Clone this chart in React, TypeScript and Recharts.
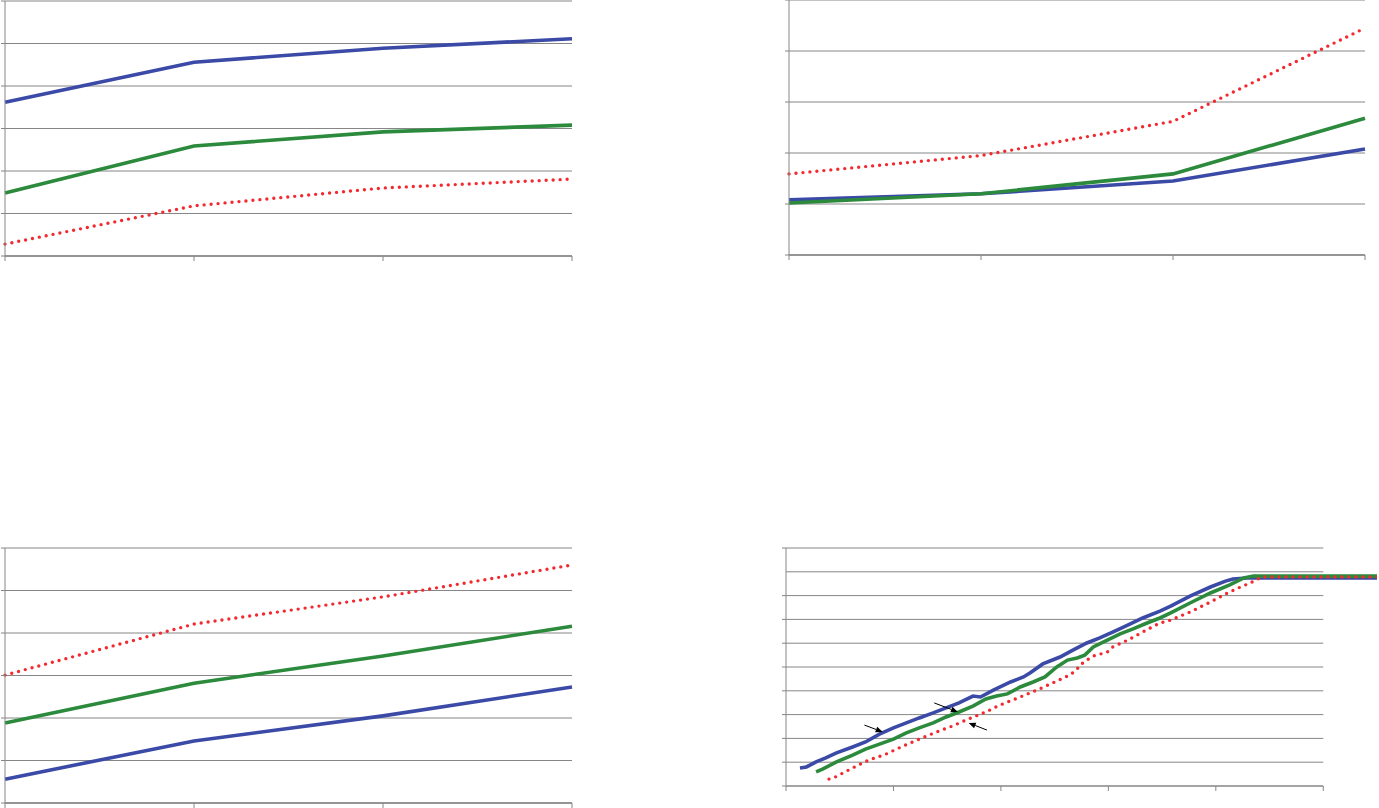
import React from "react";
import { LineChart, Line, XAxis, YAxis, CartesianGrid, ReferenceLine } from "recharts";

// ---------- colours ----------
const BLUE = "#3a4aa6";
const GREEN = "#2c8a3c";
const RED = "#f22a30";
const GRID = "#868686";

// ---------- panels 1-3 (four categories each) ----------
const categories = ["1", "2", "3", "4"];

const p1Blue = [3.62, 4.56, 4.89, 5.11];
const p1Green = [1.48, 2.59, 2.92, 3.08];
const p1Red = [0.28, 1.18, 1.6, 1.81];
const p1Ticks = [0, 1, 2, 3, 4, 5, 6];

const p2Blue = [1.08, 1.2, 1.45, 2.08];
const p2Green = [1.02, 1.2, 1.59, 2.68];
const p2Red = [1.59, 1.95, 2.62, 4.45];
const p2Ticks = [0, 1, 2, 3, 4, 5];

const p3Blue = [0.56, 1.46, 2.05, 2.73];
const p3Green = [1.88, 2.82, 3.46, 4.16];
const p3Red = [3.01, 4.21, 4.85, 5.6];
const p3Ticks = [0, 1, 2, 3, 4, 5, 6];

// ---------- panel 4 (numeric x) ----------
const p4XTicks = [0, 1, 2, 3, 4, 5];
const p4YTicks = [0, 1, 2, 3, 4, 5, 6, 7, 8, 9, 10];
const p4GridLevels = [1, 2, 3, 4, 5, 6, 7, 8, 9, 10];

const p4BlueX = [0.13, 0.19, 0.28, 0.37, 0.47, 0.62, 0.74, 0.87, 1.0, 1.12, 1.24, 1.37, 1.49, 1.61, 1.74, 1.81, 1.93, 2.09, 2.21, 2.27, 2.39, 2.55, 2.67, 2.8, 2.92, 3.04, 3.18, 3.32, 3.48, 3.58, 3.76, 3.95, 4.09, 4.16, 4.29, 5.5];
const p4BlueY = [0.76, 0.8, 1.01, 1.18, 1.39, 1.64, 1.85, 2.18, 2.44, 2.65, 2.86, 3.07, 3.28, 3.49, 3.78, 3.74, 4.03, 4.37, 4.58, 4.75, 5.13, 5.42, 5.71, 6.01, 6.22, 6.47, 6.76, 7.06, 7.35, 7.56, 7.98, 8.36, 8.61, 8.7, 8.74, 8.74];

const p4GreenX = [0.28, 0.34, 0.47, 0.62, 0.74, 0.87, 1.0, 1.12, 1.24, 1.37, 1.49, 1.61, 1.74, 1.86, 1.96, 2.06, 2.18, 2.3, 2.41, 2.52, 2.62, 2.71, 2.78, 2.86, 2.99, 3.11, 3.23, 3.36, 3.48, 3.58, 3.76, 3.95, 4.13, 4.26, 4.35, 5.5];
const p4GreenY = [0.59, 0.71, 1.01, 1.3, 1.55, 1.76, 1.97, 2.23, 2.44, 2.65, 2.9, 3.11, 3.36, 3.66, 3.78, 3.87, 4.16, 4.37, 4.58, 5.0, 5.29, 5.38, 5.5, 5.84, 6.13, 6.39, 6.6, 6.85, 7.06, 7.27, 7.69, 8.11, 8.45, 8.74, 8.82, 8.82];

const p4RedX = [0.4, 0.46, 0.62, 0.77, 0.93, 1.09, 1.24, 1.4, 1.55, 1.7, 1.86, 1.99, 2.18, 2.36, 2.52, 2.64, 2.69, 2.77, 2.86, 2.99, 3.04, 3.18, 3.32, 3.48, 3.58, 3.76, 3.95, 4.11, 4.23, 4.32, 4.39, 4.44, 5.5];
const p4RedY = [0.29, 0.38, 0.76, 1.09, 1.34, 1.68, 1.97, 2.27, 2.52, 2.82, 3.11, 3.4, 3.74, 4.08, 4.41, 4.66, 4.83, 5.21, 5.46, 5.63, 5.84, 6.13, 6.47, 6.85, 6.97, 7.31, 7.73, 8.11, 8.36, 8.53, 8.7, 8.78, 8.78];

// arrows: [fromX, fromY, toX, toY]
const p4Arrows = [
  [0.73, 2.56, 0.9, 2.27],
  [1.38, 3.49, 1.6, 3.11],
  [1.87, 2.35, 1.7, 2.65],
];

const LINE_W = 3.6;
const DOT_W = 3.4;

const zip = (xs: number[], ys: number[]) => xs.map((x, i) => ({ x, y: ys[i] }));

const buildRows = (b: number[], g: number[], r: number[]) =>
  categories.map((c, i) => ({ c, blue: b[i], green: g[i], red: r[i] }));

const noLabel = () => <g />;

const arrowShape = (props: any) => {
  const x1 = Number(props.x1), y1 = Number(props.y1), x2 = Number(props.x2), y2 = Number(props.y2);
  const dx = x2 - x1, dy = y2 - y1;
  const len = Math.hypot(dx, dy) || 1;
  const ux = dx / len, uy = dy / len;
  const hl = 7, hw = 3;
  const bx = x2 - ux * hl, by = y2 - uy * hl;
  const pts = `${x2},${y2} ${bx - uy * hw},${by + ux * hw} ${bx + uy * hw},${by - ux * hw}`;
  return (
    <g>
      <line x1={x1} y1={y1} x2={bx} y2={by} stroke="#000" strokeWidth={1} />
      <polygon points={pts} fill="#000" />
    </g>
  );
};

type PanelProps = {
  left: number; top: number; width: number; height: number;
  rows: any[]; ticks: number[];
};

function FourPointPanel({ left, top, width, height, rows, ticks }: PanelProps) {
  return (
    <div style={{ position: "absolute", left, top }}>
      <LineChart width={width} height={height} data={rows} margin={{ top: 1, right: 8, bottom: 0, left: 0 }}>
        <CartesianGrid horizontal={true} vertical={false} stroke={GRID} strokeWidth={1} />
        <XAxis dataKey="c" type="category" interval={0} tick={noLabel} height={10} tickSize={5}
          axisLine={{ stroke: GRID, strokeWidth: 1.5 }} tickLine={{ stroke: GRID }} />
        <YAxis type="number" domain={[ticks[0], ticks[ticks.length - 1]]} ticks={ticks} tick={noLabel} width={5}
          tickSize={4} axisLine={{ stroke: GRID }} tickLine={{ stroke: GRID }} />
        <Line type="linear" dataKey="blue" stroke={BLUE} strokeWidth={LINE_W} dot={false} activeDot={false} isAnimationActive={false} />
        <Line type="linear" dataKey="green" stroke={GREEN} strokeWidth={LINE_W} dot={false} activeDot={false} isAnimationActive={false} />
        <Line type="linear" dataKey="red" stroke={RED} strokeWidth={DOT_W} strokeDasharray="0 7" strokeLinecap="round"
          dot={false} activeDot={false} isAnimationActive={false} />
      </LineChart>
    </div>
  );
}

function CurvePanel() {
  return (
    <div style={{ position: "absolute", left: 781, top: 547 }}>
      <LineChart width={598} height={249} margin={{ top: 1, right: 2, bottom: 0, left: 0 }}>
        <XAxis dataKey="x" type="number" domain={[0, 5.5]} ticks={p4XTicks} tick={noLabel} height={10} tickSize={5}
          axisLine={false} tickLine={{ stroke: GRID }} allowDataOverflow />
        <YAxis type="number" domain={[0, 10]} ticks={p4YTicks} tick={noLabel} width={5} tickSize={4}
          axisLine={{ stroke: GRID }} tickLine={{ stroke: GRID }} />
        <ReferenceLine segment={[{ x: 0, y: 0 }, { x: 5, y: 0 }]} stroke={GRID} strokeWidth={1.5} />
        {p4GridLevels.map((lv) => (
          <ReferenceLine key={lv} segment={[{ x: 0, y: lv }, { x: 5, y: lv }]} stroke={GRID} strokeWidth={1} />
        ))}
        <Line data={zip(p4BlueX, p4BlueY)} dataKey="y" type="linear" stroke={BLUE} strokeWidth={LINE_W}
          dot={false} activeDot={false} isAnimationActive={false} />
        <Line data={zip(p4GreenX, p4GreenY)} dataKey="y" type="linear" stroke={GREEN} strokeWidth={LINE_W}
          dot={false} activeDot={false} isAnimationActive={false} />
        <Line data={zip(p4RedX, p4RedY)} dataKey="y" type="linear" stroke={RED} strokeWidth={DOT_W}
          strokeDasharray="0 7" strokeLinecap="round" dot={false} activeDot={false} isAnimationActive={false} />
        {p4Arrows.map((a, i) => (
          <ReferenceLine key={"a" + i} segment={[{ x: a[0], y: a[1] }, { x: a[2], y: a[3] }]} shape={arrowShape} />
        ))}
      </LineChart>
    </div>
  );
}

export default function App() {
  return (
    <div style={{ position: "absolute", left: 0, top: 0, width: 1379, height: 808, overflow: "hidden", background: "#fff" }}>
      <FourPointPanel left={0} top={0} width={580} height={266} rows={buildRows(p1Blue, p1Green, p1Red)} ticks={p1Ticks} />
      <FourPointPanel left={784} top={-1} width={589} height={266} rows={buildRows(p2Blue, p2Green, p2Red)} ticks={p2Ticks} />
      <FourPointPanel left={0} top={547} width={580} height={266} rows={buildRows(p3Blue, p3Green, p3Red)} ticks={p3Ticks} />
      <CurvePanel />
    </div>
  );
}
